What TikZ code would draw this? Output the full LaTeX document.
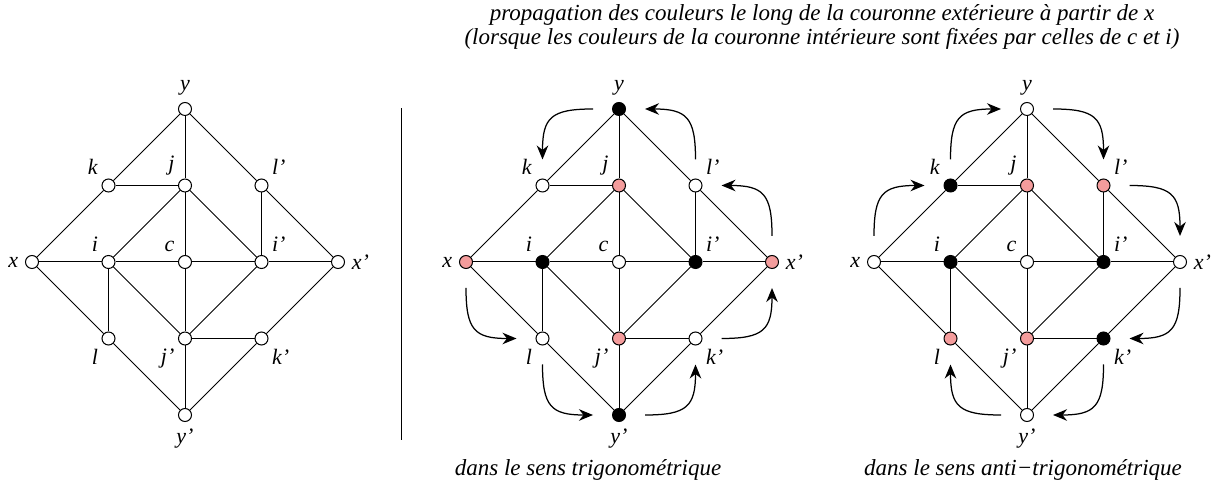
\documentclass[tikz,border=0pt]{standalone}
\usepackage{fontspec}
\setmainfont{Liberation Serif}
\usepackage{tikz}
\usetikzlibrary{positioning,arrows.meta,calc}
\definecolor{rose}{RGB}{244,156,156}

% sommets : nom/x/y/angle de l'etiquette/etiquette
\newcommand{\sommets}{y/0/2/90/y, k/-1/1/135/k, j/0/1/135/j, lp/1/1/45/l',
  x/-2/0/180/x, i/-1/0/135/i, c/0/0/135/c, ip/1/0/45/i', xp/2/0/0/x',
  l/-1/-1/225/l, jp/0/-1/225/j', kp/1/-1/-45/k', yp/0/-2/-90/y'}
\newcommand{\aretes}{y/k, y/j, y/lp, k/j, k/x, j/i, j/c, j/ip, lp/ip, lp/xp,
  x/i, i/c, c/ip, ip/xp, x/l, i/l, i/jp, c/jp, ip/jp, xp/kp, jp/kp,
  l/yp, jp/yp, kp/yp}
% #1 prefixe des noms, #2 couleurs des sommets dans l'ordre de \sommets
\newcommand{\reseau}[2]{%
  \foreach \n/\px/\py/\a/\txt [count=\r from 0] in \sommets {
    \pgfmathsetmacro{\f}{{#2}[\r]}
    \node[sommet=\f, label={[etiq]\a:\textit{\txt}}] (#1\n) at (\px,\py) {};
  }
  \foreach \u/\v in \aretes
    \draw[lien] (#1\u) -- (#1\v);
}

\begin{document}
\begin{tikzpicture}[x=0.4pt, y=0.4pt,
  sommet/.style={circle, draw=black, fill=#1, thin, inner sep=0pt, minimum size=5.2pt},
  etiq/.style={font=\fontsize{8.8}{9}\selectfont, inner sep=1pt, label distance=1.5pt},
  lien/.style={thin},
  fleche/.style={-{Stealth[length=5.6pt, width=4.6pt, inset=1.8pt]}, line width=0.5pt, looseness=1.5},
  legende/.style={font=\fontsize{9.2}{9.8}\selectfont\itshape, align=center},
]
\useasboundingbox (0,0) rectangle (1218,492);

\begin{scope}[shift={(185,230)}, x=30.6pt, y=30.6pt]
  \reseau{g1-}{"white","white","white","white","white","white","white",
               "white","white","white","white","white","white"}
\end{scope}

\draw[lien] (401,52) -- (401,384);

\begin{scope}[shift={(619,230)}, x=30.6pt, y=30.6pt]
  \reseau{g2-}{"black","white","rose","white","rose","black","white",
               "black","rose","white","rose","white","black"}
\end{scope}

\begin{scope}[shift={(1027,230)}, x=30.6pt, y=30.6pt]
  \reseau{g3-}{"white","black","rose","rose","white","black","white",
               "black","white","rose","rose","black","white"}
\end{scope}

% sens trigonometrique
\foreach \u/\v/\a/\b in {x/l/-90/180, l/yp/-90/180, yp/kp/0/-90, kp/xp/0/-90,
                         xp/lp/90/0, lp/y/90/0, y/k/180/90}
  \draw[fleche] ([shift={(\a:10.4pt)}]g2-\u.center) to[out=\a, in=\b]
                ([shift={(\b:10.4pt)}]g2-\v.center);

% sens anti-trigonometrique
\foreach \u/\v/\a/\b in {x/k/90/180, k/y/90/180, y/lp/0/90, lp/xp/0/90,
                         xp/kp/-90/0, kp/yp/-90/0, yp/l/180/-90}
  \draw[fleche] ([shift={(\a:10.4pt)}]g3-\u.center) to[out=\a, in=\b]
                ([shift={(\b:10.4pt)}]g3-\v.center);

\node[legende] (titre) at (822,465) {propagation des couleurs le long de la couronne extérieure à partir de x\\
  (lorsque les couleurs de la couronne intérieure sont fixées par celles de c et i)};
\node[legende] (trigo) at (588,22) {dans le sens trigonométrique};
\node[legende] (anti) at (1023,22) {dans le sens anti−trigonométrique};

\end{tikzpicture}
\end{document}
